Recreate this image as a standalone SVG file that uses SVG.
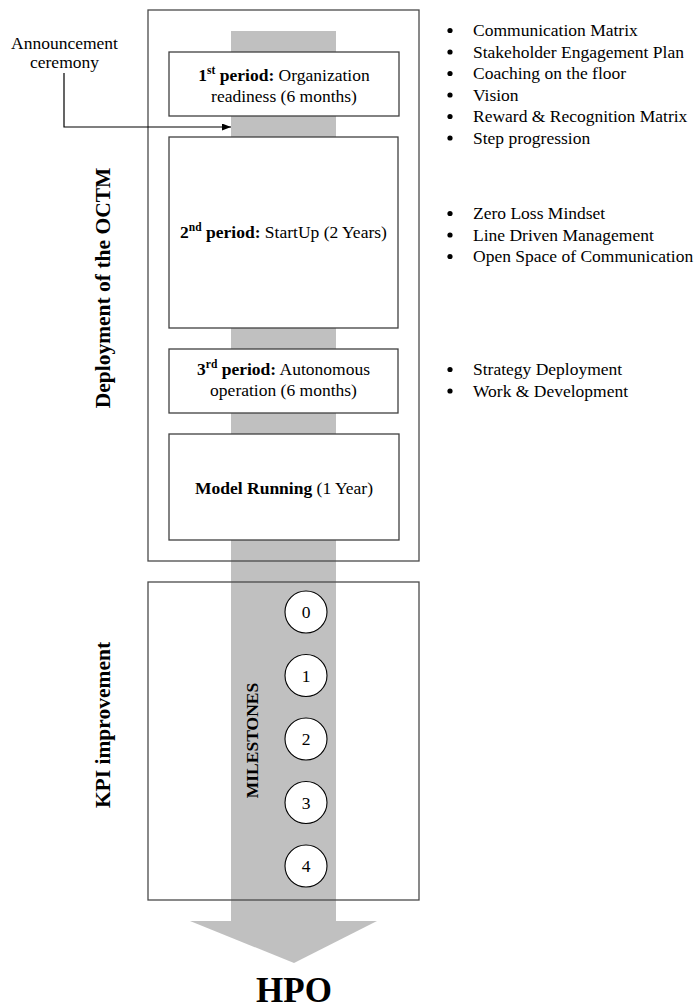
<svg xmlns="http://www.w3.org/2000/svg" width="697" height="1007" viewBox="0 0 697 1007">
<defs>
<style>
text{font-family:"Liberation Serif","Times New Roman",Times,serif;font-size:17.5px;fill:#000}
.b{font-weight:bold}
.sup{font-size:11.5px;font-weight:bold}
.box{fill:#fff;stroke:#404040;stroke-width:1.3}
.frame{fill:none;stroke:#4a4a4a;stroke-width:1.3}
.band{fill:#c0c0c0}
.circ{fill:#fff;stroke:#000;stroke-width:1.1}
.conn{fill:none;stroke:#000;stroke-width:1.2}
.mid{text-anchor:middle}
.vlab{font-weight:bold;font-size:21.5px;text-anchor:middle}
</style>
<marker id="ah" markerWidth="10" markerHeight="8" refX="9" refY="3.5" orient="auto" markerUnits="userSpaceOnUse">
<path d="M0,0 L9,3.5 L0,7 Z" fill="#000"/>
</marker>
</defs>
<rect width="697" height="1007" fill="#fff"/>

<g id="flow-band">
<rect class="band" x="231" y="31" width="105" height="890"/>
<polygon class="band" points="190,921 377,921 294,963"/>
</g>

<g id="deployment-frame">
<rect class="frame" x="148" y="10" width="271" height="551"/>
<text class="vlab" transform="translate(110,288) rotate(-90)">Deployment of the OCTM</text>
</g>

<g id="kpi-frame">
<rect class="frame" x="148" y="582" width="271" height="318"/>
<text class="vlab" transform="translate(110,725) rotate(-90)">KPI improvement</text>
<text class="b mid" transform="translate(257.5,740.5) rotate(-90)">MILESTONES</text>
</g>

<g id="period1">
<rect class="box" x="169" y="52" width="230" height="64"/>
<text class="mid" x="284" y="81"><tspan class="b">1</tspan><tspan class="sup" dy="-7">st</tspan><tspan class="b" dy="7"> period:</tspan> Organization</text>
<text class="mid" x="284" y="102">readiness (6 months)</text>
</g>

<g id="period2">
<rect class="box" x="169" y="137" width="229" height="191"/>
<text class="mid" x="283.5" y="238"><tspan class="b">2</tspan><tspan class="sup" dy="-7">nd</tspan><tspan class="b" dy="7"> period:</tspan> StartUp (2 Years)</text>
</g>

<g id="period3">
<rect class="box" x="169" y="349" width="229" height="64"/>
<text class="mid" x="283.5" y="375"><tspan class="b">3</tspan><tspan class="sup" dy="-7">rd</tspan><tspan class="b" dy="7"> period:</tspan> Autonomous</text>
<text class="mid" x="283.5" y="396">operation (6 months)</text>
</g>

<g id="model-running">
<rect class="box" x="169" y="434" width="230" height="106"/>
<text class="mid" x="284" y="494"><tspan class="b">Model Running</tspan> (1 Year)</text>
</g>

<g id="milestone-0"><circle class="circ" cx="306" cy="612" r="21"/><text class="mid" x="306" y="618">0</text></g>
<g id="milestone-1"><circle class="circ" cx="306" cy="675.5" r="21"/><text class="mid" x="306" y="681.5">1</text></g>
<g id="milestone-2"><circle class="circ" cx="306" cy="739" r="21"/><text class="mid" x="306" y="745">2</text></g>
<g id="milestone-3"><circle class="circ" cx="306" cy="802.5" r="21"/><text class="mid" x="306" y="808.5">3</text></g>
<g id="milestone-4"><circle class="circ" cx="306" cy="866" r="21"/><text class="mid" x="306" y="872">4</text></g>

<g id="hpo">
<text class="b mid" x="294" y="1002" style="font-size:35px">HPO</text>
</g>

<g id="announcement">
<text class="mid" x="64.5" y="49">Announcement</text>
<text class="mid" x="64.5" y="68">ceremony</text>
</g>

<g id="connectors">
<path class="conn" d="M64,73 V127 H231" marker-end="url(#ah)"/>
</g>

<g id="list-period1">
<circle cx="450" cy="30.5" r="2.6"/><text x="473" y="36">Communication Matrix</text>
<circle cx="450" cy="52" r="2.6"/><text x="473" y="57.5">Stakeholder Engagement Plan</text>
<circle cx="450" cy="73.5" r="2.6"/><text x="473" y="79">Coaching on the floor</text>
<circle cx="450" cy="95" r="2.6"/><text x="473" y="100.5">Vision</text>
<circle cx="450" cy="116.5" r="2.6"/><text x="473" y="122">Reward &amp; Recognition Matrix</text>
<circle cx="450" cy="138" r="2.6"/><text x="473" y="143.5">Step progression</text>
</g>

<g id="list-period2">
<circle cx="450" cy="213.5" r="2.6"/><text x="473" y="219">Zero Loss Mindset</text>
<circle cx="450" cy="235" r="2.6"/><text x="473" y="240.5">Line Driven Management</text>
<circle cx="450" cy="256.5" r="2.6"/><text x="473" y="262">Open Space of Communication</text>
</g>

<g id="list-period3">
<circle cx="450" cy="369.5" r="2.6"/><text x="473" y="375">Strategy Deployment</text>
<circle cx="450" cy="391" r="2.6"/><text x="473" y="396.5">Work &amp; Development</text>
</g>
</svg>
